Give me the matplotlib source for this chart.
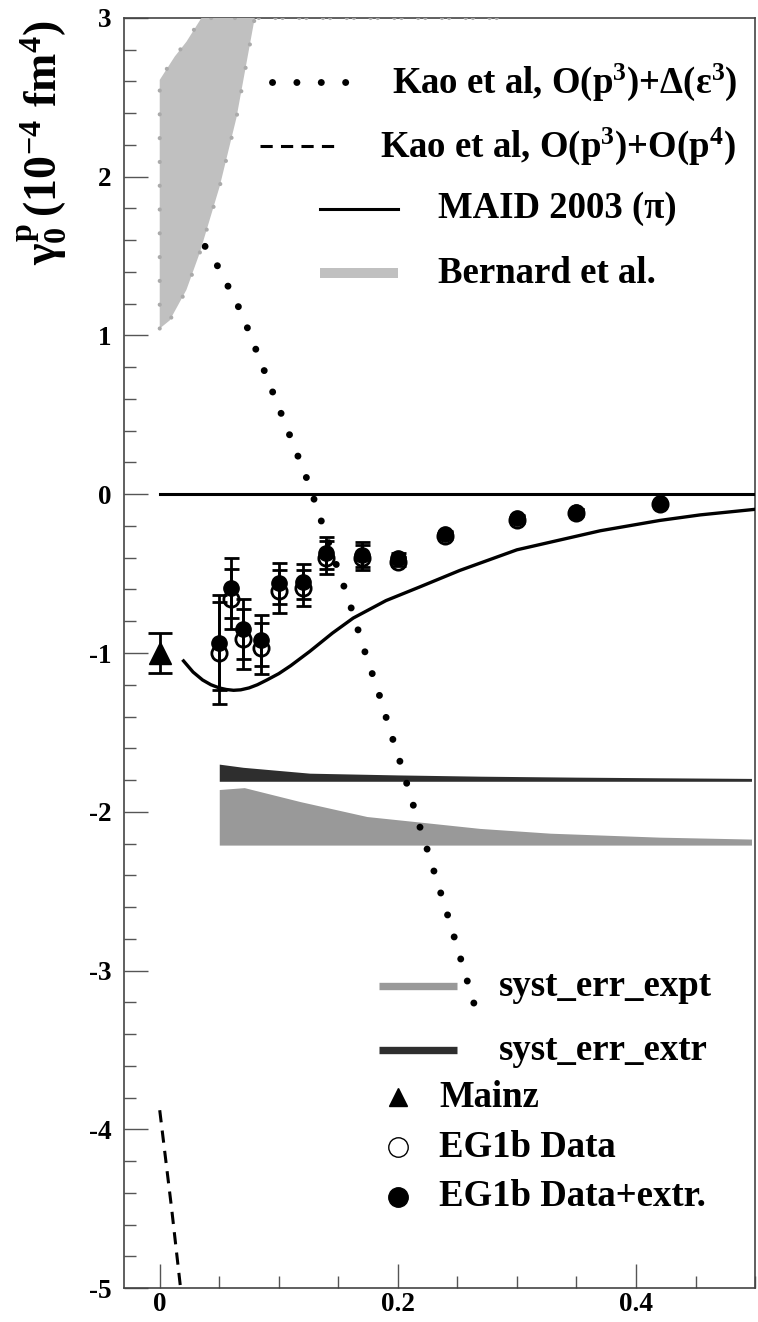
import matplotlib
matplotlib.use('Agg')
import matplotlib.pyplot as plt
from matplotlib.ticker import MultipleLocator, FixedLocator, FuncFormatter

plt.rcParams['font.family'] = ['Liberation Serif', 'DejaVu Serif']
plt.rcParams['font.weight'] = 'bold'
plt.rcParams['mathtext.fontset'] = 'custom'
plt.rcParams['mathtext.rm'] = 'Liberation Serif:bold'
plt.rcParams['mathtext.it'] = 'Liberation Serif:bold'
plt.rcParams['mathtext.bf'] = 'Liberation Serif:bold'
plt.rcParams['axes.unicode_minus'] = False

# EG1b data (Q^2 in GeV^2)
q2 = [0.05, 0.06, 0.07, 0.085, 0.10, 0.12, 0.14, 0.17, 0.20, 0.24, 0.30, 0.35, 0.42]
eg1b = [-1.00, -0.66, -0.91, -0.97, -0.61, -0.59, -0.40, -0.40, -0.425, -0.26, -0.16, -0.115, -0.062]
eg1b_err = [0.32, 0.19, 0.19, 0.16, 0.135, 0.115, 0.105, 0.08, 0.03, 0.02, 0.02, 0.02, 0.01]
eg1b_ext = [-0.934, -0.59, -0.85, -0.92, -0.56, -0.55, -0.37, -0.38, -0.40, -0.252, -0.152, -0.11, -0.058]
eg1b_ext_err = [0.30, 0.19, 0.19, 0.16, 0.13, 0.11, 0.10, 0.08, 0.03, 0.02, 0.02, 0.02, 0.01]

# Mainz point
mainz_x = [0.0]
mainz_y = [-1.0]
mainz_err = [0.128]

# MAID 2003
maid_x = [0.02, 0.028, 0.036, 0.043, 0.05, 0.056, 0.062, 0.068, 0.075, 0.082, 0.09,
          0.10, 0.11, 0.126, 0.145, 0.1625, 0.19, 0.218, 0.252, 0.30, 0.37, 0.42,
          0.454, 0.50]
maid_y = [-1.05, -1.12, -1.17, -1.20, -1.22, -1.23, -1.235, -1.232, -1.22, -1.20, -1.17,
          -1.13, -1.08, -0.99, -0.875, -0.78, -0.67, -0.585, -0.48, -0.35, -0.23, -0.165,
          -0.13, -0.095]

# zero line
zero_x = [0.0, 0.5]
zero_y = [0.0, 0.0]

# Kao et al, O(p3)+Delta(eps3)
kao1_x = [0.012, 0.02, 0.036, 0.047, 0.056, 0.065, 0.073, 0.1246, 0.131, 0.137, 0.150,
          0.157, 0.163, 0.169, 0.175, 0.1815, 0.1877, 0.193, 0.1995, 0.205, 0.2107,
          0.2165, 0.2227, 0.243, 0.266]
kao1_y = [2.70, 2.2, 1.585, 1.46, 1.33, 1.20, 1.06, 0.078, -0.062, -0.198, -0.48,
          -0.628, -0.767, -0.914, -1.055, -1.195, -1.342, -1.48, -1.628, -1.762, -1.90,
          -2.05, -2.19, -2.68, -3.26]

# Kao et al, O(p3)+O(p4)
kao2_x = [0.0, 0.01, 0.019]
kao2_y = [-3.88, -4.5, -5.1]

# Bernard et al. band (outline)
bern_x = [0.0, 0.0, 0.0126, 0.0224, 0.035, 0.29, 0.0798, 0.0644, 0.0504, 0.0336,
          0.0224, 0.0084, 0.0]
bern_y = [1.044, 2.61, 2.757, 2.85, 3.0, 3.0, 3.0, 2.37, 1.94, 1.52, 1.287, 1.095, 1.044]

# systematic error bands
syst_x_extr = [0.05, 0.07, 0.126, 0.20, 0.27, 0.35, 0.42, 0.497]
syst_extr = [-1.70, -1.72, -1.757, -1.768, -1.776, -1.782, -1.786, -1.79]
syst_base_extr = -1.808
syst_x_expt = [0.05, 0.071, 0.118, 0.174, 0.216, 0.269, 0.328, 0.42, 0.497]
syst_expt = [-1.86, -1.848, -1.936, -2.03, -2.063, -2.105, -2.135, -2.16, -2.172]
syst_base_expt = -2.21

fig = plt.figure(figsize=(7.58, 13.22), dpi=100)
ax = fig.add_axes([0.1636, 0.0257, 0.8325, 0.9607])
ax.set_xlim(-0.03, 0.5)
ax.set_ylim(-5, 3)

# bands
ax.fill_between(syst_x_expt, syst_base_expt, syst_expt, color='#999999', lw=0, zorder=1)
ax.fill_between(syst_x_extr, syst_base_extr, syst_extr, color='#2e2e2e', lw=0, zorder=1)

# Kao dotted
ax.plot(kao1_x, kao1_y, color='black', lw=5, linestyle=(0, (0.01, 3.3)),
        dash_capstyle='round', zorder=2)
# Bernard band on top
ax.fill(bern_x, bern_y, color='#c0c0c0', lw=0, zorder=3)
ax.plot(bern_x, bern_y, color='#aaaaaa', lw=3, linestyle=(0, (0.01, 5.7)),
        dash_capstyle='round', zorder=3)

# Kao dashed
ax.plot(kao2_x, kao2_y, color='black', lw=2.2, linestyle=(0, (4, 2.7)), zorder=2)

# MAID and zero line
ax.plot(maid_x, maid_y, color='black', lw=2.4, zorder=4, solid_joinstyle='round')
ax.plot(zero_x, zero_y, color='black', lw=2.2, zorder=4)

# data
ax.errorbar(mainz_x, mainz_y, yerr=mainz_err, fmt='^', color='black', ms=16,
            elinewidth=2, capsize=8.4, capthick=2, zorder=5)
ax.errorbar(q2, eg1b, yerr=eg1b_err, fmt='o', mfc='none', mec='black', ms=11, mew=2,
            ecolor='black', elinewidth=2, capsize=5.4, capthick=2, zorder=5)
ax.errorbar(q2, eg1b_ext, yerr=eg1b_ext_err, fmt='o', color='black', ms=11,
            elinewidth=2, capsize=5.4, capthick=2, zorder=6)

# axes styling
ax.xaxis.set_major_locator(FixedLocator([0.0, 0.2, 0.4]))
ax.xaxis.set_minor_locator(MultipleLocator(0.05))
ax.xaxis.set_major_formatter(FuncFormatter(lambda v, p: '0' if abs(v) < 1e-9 else '%g' % v))
ax.yaxis.set_major_locator(MultipleLocator(1))
ax.yaxis.set_minor_locator(MultipleLocator(0.2))
ax.yaxis.set_major_formatter(FuncFormatter(lambda v, p: '%d' % round(v)))
ax.tick_params(which='both', direction='in', top=False, right=False, color='#555555',
               labelsize=19.5, width=1)
ax.tick_params(which='major', length=17.3)
ax.tick_params(axis='y', which='major', pad=9)
ax.tick_params(axis='x', which='major', pad=3)
ax.tick_params(which='minor', length=8.6)
for s in ax.spines.values():
    s.set_color('#444444')
    s.set_linewidth(1.2)

fig.text(42 / 758, 1 - 143 / 1322, r'$\gamma_{0}^{\rm p}\,(10^{-4}\ {\rm fm}^{4})$',
         rotation=90, ha='center', va='center', fontsize=33)

# legend, upper
tr = ax.transAxes
fs = 26.5
ax.plot([0.2345, 0.3534], [0.9496, 0.9496], transform=tr, color='black', lw=5,
        linestyle=(0, (0.01, 3.5)), dash_capstyle='round', clip_on=False)
ax.text(0.4247, 0.9496, 'Kao et al, O(p$^3$)+Δ(ε$^3$)', transform=tr, fontsize=fs,
        va='center', ha='left')
ax.plot([0.2155, 0.339], [0.8992, 0.8992], transform=tr, color='black', lw=2.2,
        linestyle=(0, (4, 2.7)))
ax.text(0.4057, 0.8992, 'Kao et al, O(p$^3$)+O(p$^4$)', transform=tr, fontsize=fs,
        va='center', ha='left')
ax.plot([0.3106, 0.4342], [0.8496, 0.8496], transform=tr, color='black', lw=2.2)
ax.text(0.4976, 0.8496, 'MAID 2003 (π)', transform=tr, fontsize=fs, va='center', ha='left')
ax.plot([0.3106, 0.4342], [0.7992, 0.7992], transform=tr, color='#c0c0c0', lw=7.2,
        solid_capstyle='butt')
ax.text(0.4976, 0.7992, 'Bernard et al.', transform=tr, fontsize=fs, va='center', ha='left')

# legend, lower
ax.plot([0.4033, 0.5277], [0.2378, 0.2378], transform=tr, color='#999999', lw=5.3,
        solid_capstyle='butt')
ax.text(0.5943, 0.2378, 'syst_err_expt', transform=tr, fontsize=fs, va='center', ha='left')
ax.plot([0.4033, 0.5277], [0.1874, 0.1874], transform=tr, color='#2e2e2e', lw=5.3,
        solid_capstyle='butt')
ax.text(0.5943, 0.1874, 'syst_err_extr', transform=tr, fontsize=fs, va='center', ha='left')
ax.plot([0.4342], [0.1504], transform=tr, marker='^', color='black', ms=13, ls='none')
ax.text(0.4992, 0.1504, 'Mainz', transform=tr, fontsize=fs, va='center', ha='left')
ax.plot([0.4342], [0.1110], transform=tr, marker='o', mfc='none', mec='black', ms=14,
        mew=1, ls='none')
ax.text(0.4992, 0.1110, 'EG1b Data', transform=tr, fontsize=fs, va='center', ha='left')
ax.plot([0.4342], [0.0717], transform=tr, marker='o', color='black', ms=14, ls='none')
ax.text(0.4992, 0.0717, 'EG1b Data+extr.', transform=tr, fontsize=fs, va='center', ha='left')

fig.savefig('out.png', dpi=100)
